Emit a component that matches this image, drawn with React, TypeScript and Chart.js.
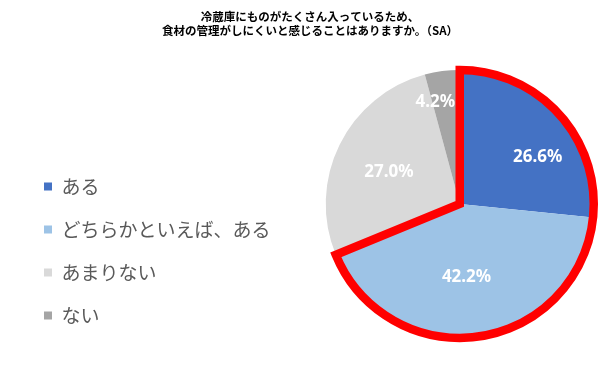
import React, { useEffect, useRef } from 'react';
import { Chart, registerables } from 'chart.js';

Chart.register(...registerables);

// ---- data ----
const categories = ['ある', 'どちらかといえば、ある', 'あまりない', 'ない'];
const values = [26.6, 42.2, 27.0, 4.2];
const sliceColors = ['#4472C4', '#9DC3E6', '#D9D9D9', '#A5A5A5'];
const titleLines = [
  '冷蔵庫にものがたくさん入っているため、',
  '食材の管理がしにくいと感じることはありますか。（SA）',
];
const highlightedSlices = [0, 1];

// label placement (Excel "best fit" style): fraction of radius and angular nudge (deg)
const labelRadiusFraction = [0.68, 0.55, 0.58, 0.78];
const labelAngleNudge = [11, 3, -2, -6];

const pieShift = {
  id: 'pieShift',
  afterLayout(chart: any, _args: any, opts: any) {
    const a = chart.chartArea;
    a.left += opts.shift || 0;
    a.width = a.right - a.left;
  },
};

const sliceDecor = {
  id: 'sliceDecor',
  afterDatasetsDraw(chart: any) {
    const meta = chart.getDatasetMeta(0);
    const ctx = chart.ctx;
    ctx.save();
    ctx.font = 'bold 17px "Noto Sans"';
    ctx.fillStyle = '#ffffff';
    ctx.textAlign = 'center';
    ctx.textBaseline = 'middle';
    meta.data.forEach((arc: any, i: number) => {
      const p = arc.getProps(['x', 'y', 'startAngle', 'endAngle', 'outerRadius'], true);
      const mid = (p.startAngle + p.endAngle) / 2 + (labelAngleNudge[i] * Math.PI) / 180;
      const r = p.outerRadius * labelRadiusFraction[i];
      ctx.fillText(values[i].toFixed(1) + '%', p.x + Math.cos(mid) * r, p.y + Math.sin(mid) * r);
    });

    const first = meta.data[highlightedSlices[0]].getProps(['x', 'y', 'startAngle', 'outerRadius'], true);
    const last = meta.data[highlightedSlices[highlightedSlices.length - 1]].getProps(['endAngle'], true);
    ctx.beginPath();
    ctx.moveTo(first.x, first.y);
    ctx.lineTo(first.x + Math.cos(first.startAngle) * first.outerRadius, first.y + Math.sin(first.startAngle) * first.outerRadius);
    ctx.arc(first.x, first.y, first.outerRadius, first.startAngle, last.endAngle);
    ctx.closePath();
    ctx.lineWidth = 8.5;
    ctx.lineJoin = 'miter';
    ctx.strokeStyle = '#FF0000';
    ctx.stroke();
    ctx.restore();
  },
};

export default function App() {
  const canvasRef = useRef<HTMLCanvasElement | null>(null);

  useEffect(() => {
    if (!canvasRef.current) return;
    const chart = new Chart(canvasRef.current, {
      type: 'pie',
      data: {
        labels: categories,
        datasets: [
          {
            data: values,
            backgroundColor: sliceColors,
            borderWidth: 0,
            radius: 134,
          } as any,
        ],
      },
      options: {
        animation: false,
        responsive: true,
        maintainAspectRatio: false,
        layout: { padding: { left: 20, right: 15, top: 0, bottom: 19 } },
        plugins: {
          title: {
            display: true,
            text: titleLines,
            color: '#000000',
            font: { family: '"Noto Sans CJK JP"', size: 11.5, weight: 'bold', lineHeight: 1.17 },
            padding: { top: 10, bottom: 22 },
          },
          legend: {
            position: 'left',
            align: 'end',
            labels: {
              boxWidth: 8,
              boxHeight: 8,
              padding: 24,
              color: '#595959',
              font: { family: '"Noto Sans CJK JP"', size: 19 },
            },
          },
          tooltip: { enabled: false },
          pieShift: { shift: 39 },
        } as any,
      },
      plugins: [pieShift, sliceDecor],
    });
    return () => chart.destroy();
  }, []);

  return (
    <div style={{ position: 'absolute', left: 0, top: 0, width: 615, height: 368, background: '#fff' }}>
      <canvas ref={canvasRef} />
    </div>
  );
}
